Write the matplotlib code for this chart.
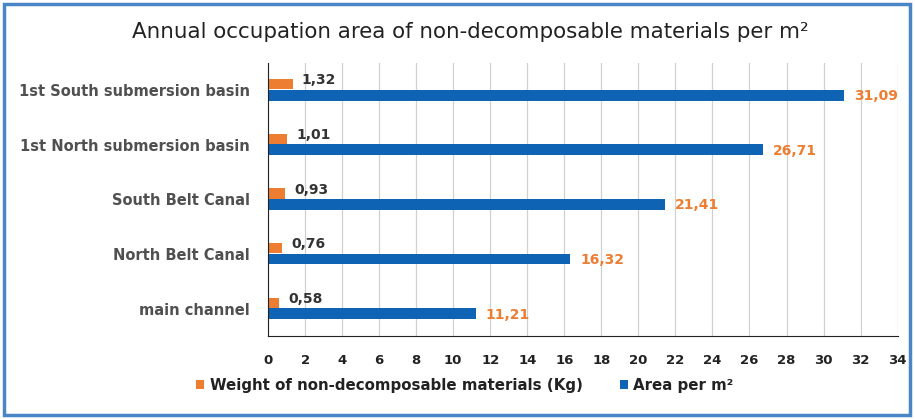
import matplotlib.pyplot as plt
import numpy as np
from matplotlib.patches import Rectangle

categories = ["main channel", "North Belt Canal", "South Belt Canal",
              "1st North submersion basin", "1st South submersion basin"]
weight_kg = [0.58, 0.76, 0.93, 1.01, 1.32]
area_m2 = [11.21, 16.32, 21.41, 26.71, 31.09]

orange = "#ED7D31"
blue = "#0F63B5"

fig = plt.figure(figsize=(9.15, 4.19), dpi=100)
ax = fig.add_axes([0.293, 0.198, 0.688, 0.652])

y = np.arange(len(categories))
ax.barh(y + 0.11, weight_kg, height=0.19, color=orange, label="Weight of non-decomposable materials (Kg)")
ax.barh(y - 0.09, area_m2, height=0.2, color=blue, label="Area per m²")

for yi, w, a in zip(y, weight_kg, area_m2):
    ax.text(w + 0.5, yi + 0.18, f"{w:.2f}".replace(".", ","), va="center", ha="left",
            fontsize=10, fontweight="bold", color="#333333")
    ax.text(a + 0.55, yi - 0.11, f"{a:.2f}".replace(".", ","), va="center", ha="left",
            fontsize=10, fontweight="bold", color=orange)

ax.set_xlim(0, 34)
ax.set_ylim(-0.5, 4.5)
ax.set_xticks(range(0, 35, 2))
ax.set_yticks(y)
ax.set_yticklabels(categories, fontsize=10.5, color="#505050")
ax.grid(axis="x", color="#d0d0d0", linewidth=0.9)
ax.set_axisbelow(True)
for s in ["top", "right"]:
    ax.spines[s].set_visible(False)
ax.spines["left"].set_color("#222222")
ax.spines["bottom"].set_color("#222222")
ax.tick_params(axis="both", length=0)
ax.tick_params(axis="x", pad=13, labelsize=9.5, colors="#222222")
ax.tick_params(axis="y", pad=13)
for lbl in ax.get_xticklabels() + ax.get_yticklabels():
    lbl.set_fontweight("bold")

fig.text(0.514, 0.923, "Annual occupation area of non-decomposable materials per m²",
         ha="center", va="center", fontsize=15.4, color="#222222")

leg = fig.legend(loc="center", bbox_to_anchor=(0.508, 0.08), ncol=2, frameon=False,
                 handlelength=0.55, handleheight=0.55, columnspacing=2.5, handletextpad=0.35,
                 prop={"size": 10.8, "weight": "bold"})
for t in leg.get_texts():
    t.set_color("#222222")

# outer frame
fig.patches.append(Rectangle((0.004, 0.01), 0.99, 0.98, transform=fig.transFigure,
                             fill=False, edgecolor="#4A86C5", linewidth=2.5))

fig.savefig("out.png", dpi=100)
